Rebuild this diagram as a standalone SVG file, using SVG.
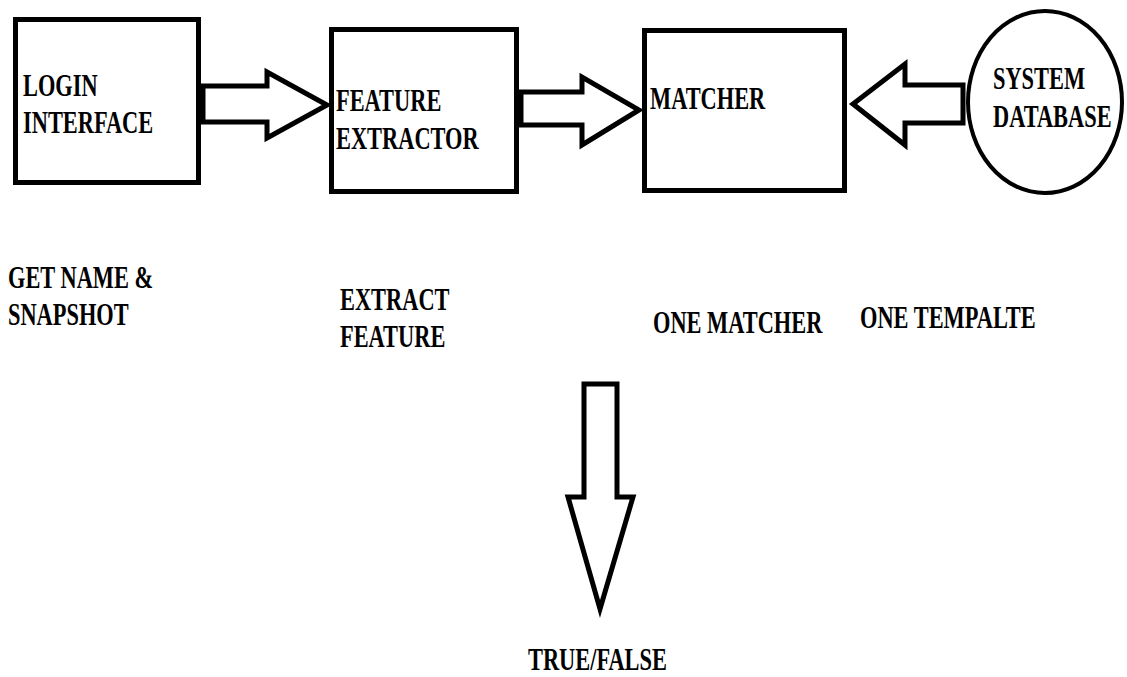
<svg xmlns="http://www.w3.org/2000/svg" width="1127" height="677" viewBox="0 0 1127 677">
  <style>
    .box { fill: #ffffff; stroke: #000000; stroke-width: 5; }
    .arrow { fill: #ffffff; stroke: #000000; stroke-width: 5; stroke-linejoin: miter; }
    .db { fill: #ffffff; stroke: #000000; stroke-width: 4; }
    .lbl { font-family: "Liberation Serif", "Times New Roman", serif; font-weight: bold; font-size: 32px; fill: #000000; }
  </style>
  <rect width="1127" height="677" fill="#ffffff"/>

  <!-- connectors: hollow block arrows -->
  <g id="connectors">
    <polygon id="login-to-extractor" class="arrow" points="203,86 267,86 267,72 327,105 267,138 267,122 203,122"/>
    <polygon id="extractor-to-matcher" class="arrow" points="521,92 582,92 582,77 639,110 582,145 582,125 521,125"/>
    <polygon id="database-to-matcher" class="arrow" points="963,85 905,85 905,64 853,104 905,145 905,123 963,123"/>
    <polygon id="matcher-result" class="arrow" points="584,384 617,384 617,497 633,497 600,609 568,497 584,497"/>
  </g>

  <g id="login-interface">
    <rect class="box" x="15.5" y="19.5" width="183" height="163"/>
    <text class="lbl" transform="matrix(0.7 0 0 1 23 96)">LOGIN</text>
    <text class="lbl" transform="matrix(0.7 0 0 1 23 133)">INTERFACE</text>
  </g>

  <g id="feature-extractor">
    <rect class="box" x="331.5" y="29.5" width="185" height="162"/>
    <text class="lbl" transform="matrix(0.7 0 0 1 336 111)">FEATURE</text>
    <text class="lbl" transform="matrix(0.7 0 0 1 336 149)">EXTRACTOR</text>
  </g>

  <g id="matcher">
    <rect class="box" x="644.5" y="30.5" width="200" height="160"/>
    <text class="lbl" transform="matrix(0.7 0 0 1 650 109)">MATCHER</text>
  </g>

  <g id="system-database">
    <ellipse class="db" cx="1045" cy="102" rx="77" ry="91"/>
    <text class="lbl" transform="matrix(0.7 0 0 1 993 89)">SYSTEM</text>
    <text class="lbl" transform="matrix(0.7 0 0 1 993 127)">DATABASE</text>
  </g>

  <g id="caption-login">
    <text class="lbl" transform="matrix(0.7 0 0 1 8 288)">GET NAME &amp;</text>
    <text class="lbl" transform="matrix(0.7 0 0 1 8 325)">SNAPSHOT</text>
  </g>

  <g id="caption-extractor">
    <text class="lbl" transform="matrix(0.7 0 0 1 340 310)">EXTRACT</text>
    <text class="lbl" transform="matrix(0.7 0 0 1 340 347)">FEATURE</text>
  </g>

  <g id="caption-matcher">
    <text class="lbl" transform="matrix(0.7 0 0 1 653 333)">ONE MATCHER</text>
  </g>

  <g id="caption-database">
    <text class="lbl" transform="matrix(0.7 0 0 1 860 328)">ONE TEMPALTE</text>
  </g>

  <g id="result">
    <text class="lbl" transform="matrix(0.7 0 0 1 528 670)">TRUE/FALSE</text>
  </g>
</svg>
